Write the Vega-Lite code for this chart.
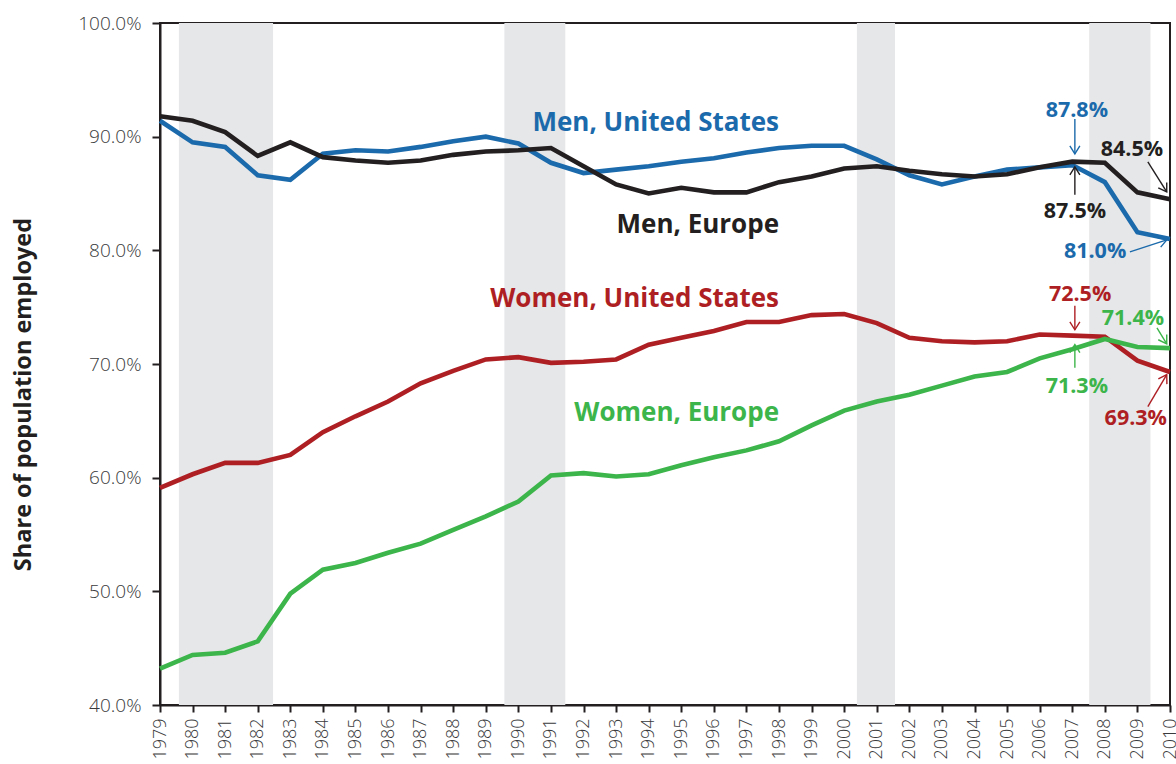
{
  "$schema": "https://vega.github.io/schema/vega-lite/v6.json",
  "width": 1010,
  "height": 682,
  "autosize": {"type": "none"},
  "padding": {"left": 160, "top": 23, "right": 6, "bottom": 59},
  "background": "white",
  "config": {
    "view": {"stroke": "#231f20", "strokeWidth": 2},
    "font": "Open Sans",
    "text": {"font": "Open Sans"},
    "axisY": {
      "labelFontSize": 19, "labelColor": "#3a3a3c", "labelFont": "Open Sans", "labelFontWeight": 300,
      "tickSize": 8, "tickWidth": 2, "tickColor": "#231f20",
      "domainColor": "#231f20", "domainWidth": 2, "labelPadding": 11,
      "grid": false, "labelFlush": false, "labelOverlap": false
    }
  },
  "datasets": {
    "emp": [
      {"year": 1979, "series": "Men, United States", "value": 91.4},
      {"year": 1980, "series": "Men, United States", "value": 89.5},
      {"year": 1981, "series": "Men, United States", "value": 89.1},
      {"year": 1982, "series": "Men, United States", "value": 86.6},
      {"year": 1983, "series": "Men, United States", "value": 86.2},
      {"year": 1984, "series": "Men, United States", "value": 88.5},
      {"year": 1985, "series": "Men, United States", "value": 88.8},
      {"year": 1986, "series": "Men, United States", "value": 88.7},
      {"year": 1987, "series": "Men, United States", "value": 89.1},
      {"year": 1988, "series": "Men, United States", "value": 89.6},
      {"year": 1989, "series": "Men, United States", "value": 90.0},
      {"year": 1990, "series": "Men, United States", "value": 89.4},
      {"year": 1991, "series": "Men, United States", "value": 87.7},
      {"year": 1992, "series": "Men, United States", "value": 86.8},
      {"year": 1993, "series": "Men, United States", "value": 87.1},
      {"year": 1994, "series": "Men, United States", "value": 87.4},
      {"year": 1995, "series": "Men, United States", "value": 87.8},
      {"year": 1996, "series": "Men, United States", "value": 88.1},
      {"year": 1997, "series": "Men, United States", "value": 88.6},
      {"year": 1998, "series": "Men, United States", "value": 89.0},
      {"year": 1999, "series": "Men, United States", "value": 89.2},
      {"year": 2000, "series": "Men, United States", "value": 89.2},
      {"year": 2001, "series": "Men, United States", "value": 88.0},
      {"year": 2002, "series": "Men, United States", "value": 86.6},
      {"year": 2003, "series": "Men, United States", "value": 85.8},
      {"year": 2004, "series": "Men, United States", "value": 86.5},
      {"year": 2005, "series": "Men, United States", "value": 87.1},
      {"year": 2006, "series": "Men, United States", "value": 87.3},
      {"year": 2007, "series": "Men, United States", "value": 87.5},
      {"year": 2008, "series": "Men, United States", "value": 86.0},
      {"year": 2009, "series": "Men, United States", "value": 81.6},
      {"year": 2010, "series": "Men, United States", "value": 81.0},
      {"year": 1979, "series": "Men, Europe", "value": 91.8},
      {"year": 1980, "series": "Men, Europe", "value": 91.4},
      {"year": 1981, "series": "Men, Europe", "value": 90.4},
      {"year": 1982, "series": "Men, Europe", "value": 88.3},
      {"year": 1983, "series": "Men, Europe", "value": 89.5},
      {"year": 1984, "series": "Men, Europe", "value": 88.2},
      {"year": 1985, "series": "Men, Europe", "value": 87.9},
      {"year": 1986, "series": "Men, Europe", "value": 87.7},
      {"year": 1987, "series": "Men, Europe", "value": 87.9},
      {"year": 1988, "series": "Men, Europe", "value": 88.4},
      {"year": 1989, "series": "Men, Europe", "value": 88.7},
      {"year": 1990, "series": "Men, Europe", "value": 88.8},
      {"year": 1991, "series": "Men, Europe", "value": 89.0},
      {"year": 1992, "series": "Men, Europe", "value": 87.4},
      {"year": 1993, "series": "Men, Europe", "value": 85.8},
      {"year": 1994, "series": "Men, Europe", "value": 85.0},
      {"year": 1995, "series": "Men, Europe", "value": 85.5},
      {"year": 1996, "series": "Men, Europe", "value": 85.1},
      {"year": 1997, "series": "Men, Europe", "value": 85.1},
      {"year": 1998, "series": "Men, Europe", "value": 86.0},
      {"year": 1999, "series": "Men, Europe", "value": 86.5},
      {"year": 2000, "series": "Men, Europe", "value": 87.2},
      {"year": 2001, "series": "Men, Europe", "value": 87.4},
      {"year": 2002, "series": "Men, Europe", "value": 87.0},
      {"year": 2003, "series": "Men, Europe", "value": 86.7},
      {"year": 2004, "series": "Men, Europe", "value": 86.5},
      {"year": 2005, "series": "Men, Europe", "value": 86.7},
      {"year": 2006, "series": "Men, Europe", "value": 87.3},
      {"year": 2007, "series": "Men, Europe", "value": 87.8},
      {"year": 2008, "series": "Men, Europe", "value": 87.7},
      {"year": 2009, "series": "Men, Europe", "value": 85.1},
      {"year": 2010, "series": "Men, Europe", "value": 84.5},
      {"year": 1979, "series": "Women, United States", "value": 59.1},
      {"year": 1980, "series": "Women, United States", "value": 60.3},
      {"year": 1981, "series": "Women, United States", "value": 61.3},
      {"year": 1982, "series": "Women, United States", "value": 61.3},
      {"year": 1983, "series": "Women, United States", "value": 62.0},
      {"year": 1984, "series": "Women, United States", "value": 64.0},
      {"year": 1985, "series": "Women, United States", "value": 65.4},
      {"year": 1986, "series": "Women, United States", "value": 66.7},
      {"year": 1987, "series": "Women, United States", "value": 68.3},
      {"year": 1988, "series": "Women, United States", "value": 69.4},
      {"year": 1989, "series": "Women, United States", "value": 70.4},
      {"year": 1990, "series": "Women, United States", "value": 70.6},
      {"year": 1991, "series": "Women, United States", "value": 70.1},
      {"year": 1992, "series": "Women, United States", "value": 70.2},
      {"year": 1993, "series": "Women, United States", "value": 70.4},
      {"year": 1994, "series": "Women, United States", "value": 71.7},
      {"year": 1995, "series": "Women, United States", "value": 72.3},
      {"year": 1996, "series": "Women, United States", "value": 72.9},
      {"year": 1997, "series": "Women, United States", "value": 73.7},
      {"year": 1998, "series": "Women, United States", "value": 73.7},
      {"year": 1999, "series": "Women, United States", "value": 74.3},
      {"year": 2000, "series": "Women, United States", "value": 74.4},
      {"year": 2001, "series": "Women, United States", "value": 73.6},
      {"year": 2002, "series": "Women, United States", "value": 72.3},
      {"year": 2003, "series": "Women, United States", "value": 72.0},
      {"year": 2004, "series": "Women, United States", "value": 71.9},
      {"year": 2005, "series": "Women, United States", "value": 72.0},
      {"year": 2006, "series": "Women, United States", "value": 72.6},
      {"year": 2007, "series": "Women, United States", "value": 72.5},
      {"year": 2008, "series": "Women, United States", "value": 72.4},
      {"year": 2009, "series": "Women, United States", "value": 70.3},
      {"year": 2010, "series": "Women, United States", "value": 69.3},
      {"year": 1979, "series": "Women, Europe", "value": 43.2},
      {"year": 1980, "series": "Women, Europe", "value": 44.4},
      {"year": 1981, "series": "Women, Europe", "value": 44.6},
      {"year": 1982, "series": "Women, Europe", "value": 45.6},
      {"year": 1983, "series": "Women, Europe", "value": 49.8},
      {"year": 1984, "series": "Women, Europe", "value": 51.9},
      {"year": 1985, "series": "Women, Europe", "value": 52.5},
      {"year": 1986, "series": "Women, Europe", "value": 53.4},
      {"year": 1987, "series": "Women, Europe", "value": 54.2},
      {"year": 1988, "series": "Women, Europe", "value": 55.4},
      {"year": 1989, "series": "Women, Europe", "value": 56.6},
      {"year": 1990, "series": "Women, Europe", "value": 57.9},
      {"year": 1991, "series": "Women, Europe", "value": 60.2},
      {"year": 1992, "series": "Women, Europe", "value": 60.4},
      {"year": 1993, "series": "Women, Europe", "value": 60.1},
      {"year": 1994, "series": "Women, Europe", "value": 60.3},
      {"year": 1995, "series": "Women, Europe", "value": 61.1},
      {"year": 1996, "series": "Women, Europe", "value": 61.8},
      {"year": 1997, "series": "Women, Europe", "value": 62.4},
      {"year": 1998, "series": "Women, Europe", "value": 63.2},
      {"year": 1999, "series": "Women, Europe", "value": 64.6},
      {"year": 2000, "series": "Women, Europe", "value": 65.9},
      {"year": 2001, "series": "Women, Europe", "value": 66.7},
      {"year": 2002, "series": "Women, Europe", "value": 67.3},
      {"year": 2003, "series": "Women, Europe", "value": 68.1},
      {"year": 2004, "series": "Women, Europe", "value": 68.9},
      {"year": 2005, "series": "Women, Europe", "value": 69.3},
      {"year": 2006, "series": "Women, Europe", "value": 70.5},
      {"year": 2007, "series": "Women, Europe", "value": 71.3},
      {"year": 2008, "series": "Women, Europe", "value": 72.2},
      {"year": 2009, "series": "Women, Europe", "value": 71.5},
      {"year": 2010, "series": "Women, Europe", "value": 71.4}
    ],
    "rec": [
      {"start": 1979.58, "end": 1982.47},
      {"start": 1989.57, "end": 1991.44},
      {"start": 2000.39, "end": 2001.56},
      {"start": 2007.52, "end": 2009.4}
    ],
    "labels": [
      {"series": "Men, United States", "year": 1998, "value": 91.2, "text": "Men, United States"},
      {"series": "Men, Europe", "year": 1998, "value": 82.2, "text": "Men, Europe"},
      {"series": "Women, United States", "year": 1998, "value": 75.7, "text": "Women, United States"},
      {"series": "Women, Europe", "year": 1998, "value": 65.7, "text": "Women, Europe"}
    ],
    "notes": [
      {"series": "Men, United States", "year": 2007.14, "value": 92.26, "text": "87.8%"},
      {"series": "Men, Europe", "year": 2007.08, "value": 83.38, "text": "87.5%"},
      {"series": "Men, Europe", "year": 2008.83, "value": 88.83, "text": "84.5%"},
      {"series": "Men, United States", "year": 2007.7, "value": 79.87, "text": "81.0%"},
      {"series": "Women, United States", "year": 2007.24, "value": 76.09, "text": "72.5%"},
      {"series": "Women, Europe", "year": 2008.86, "value": 73.98, "text": "71.4%"},
      {"series": "Women, Europe", "year": 2007.14, "value": 68.0, "text": "71.3%"},
      {"series": "Women, United States", "year": 2008.95, "value": 65.19, "text": "69.3%"}
    ],
    "arrows": [
      {"series": "Men, United States", "head": "down", "x1": 2007.08, "y1": 91.55, "x2": 2007.08, "y2": 88.48},
      {"series": "Men, Europe", "head": "up", "x1": 2007.08, "y1": 84.88, "x2": 2007.08, "y2": 87.34},
      {"series": "Men, Europe", "head": "se", "x1": 2009.32, "y1": 87.78, "x2": 2009.9, "y2": 85.14},
      {"series": "Men, United States", "head": "east", "x1": 2008.77, "y1": 79.87, "x2": 2009.9, "y2": 80.92},
      {"series": "Women, United States", "head": "down", "x1": 2007.08, "y1": 75.12, "x2": 2007.08, "y2": 73.01},
      {"series": "Women, Europe", "head": "se", "x1": 2009.6, "y1": 73.18, "x2": 2009.9, "y2": 71.77},
      {"series": "Women, Europe", "head": "up", "x1": 2007.08, "y1": 69.68, "x2": 2007.08, "y2": 71.7},
      {"series": "Women, United States", "head": "ne", "x1": 2009.32, "y1": 66.25, "x2": 2009.9, "y2": 69.06}
    ]
  },
  "layer": [
    {
      "data": {"name": "rec"},
      "mark": {"type": "rect", "color": "#e6e7e8"},
      "encoding": {
        "x": {
          "field": "start", "type": "quantitative",
          "scale": {"domain": [1979, 2010], "nice": false, "zero": false},
          "axis": {
            "values": [1979,1980,1981,1982,1983,1984,1985,1986,1987,1988,1989,1990,1991,1992,1993,1994,1995,1996,1997,1998,1999,2000,2001,2002,2003,2004,2005,2006,2007,2008,2009,2010],
            "tickCount": 32,
            "format": "d", "labelAngle": -90, "labelFontSize": 18, "labelColor": "#3a3a3c",
            "labelFont": "Open Sans", "labelFontWeight": 300,
            "tickSize": 7, "tickWidth": 2, "tickColor": "#231f20",
            "domainColor": "#231f20", "domainWidth": 2, "labelPadding": 6,
            "grid": false, "title": null, "labelFlush": false, "labelOverlap": false, "labelBound": false,
            "labelSeparation": 0
          }
        },
        "x2": {"field": "end"}
      }
    },
    {
      "data": {"name": "emp"},
      "mark": {"type": "line", "strokeWidth": 4.6},
      "encoding": {
        "x": {"field": "year", "type": "quantitative"},
        "y": {
          "field": "value", "type": "quantitative",
          "scale": {"domain": [40, 100], "nice": false, "zero": false},
          "axis": {
            "values": [40, 50, 60, 70, 80, 90, 100],
            "labelExpr": "format(datum.value, '.1f') + '%'",
            "title": "Share of population employed",
            "titleFontSize": 23.5, "titleFontWeight": "bold", "titleColor": "#231f20", "titleFont": "Open Sans",
            "titleX": -137, "titleY": 371, "titleAngle": -90, "titleAlign": "center", "titleBaseline": "middle"
          }
        },
        "color": {
          "field": "series", "type": "nominal",
          "scale": {
            "domain": ["Men, United States", "Men, Europe", "Women, United States", "Women, Europe"],
            "range": ["#1b6aab", "#231f20", "#ae1f24", "#3cb54a"]
          },
          "legend": null
        }
      }
    },
    {
      "data": {"name": "labels"},
      "mark": {"type": "text", "align": "right", "baseline": "middle", "fontSize": 26, "fontWeight": "bold", "font": "Open Sans"},
      "encoding": {
        "x": {"field": "year", "type": "quantitative"},
        "y": {"field": "value", "type": "quantitative"},
        "text": {"field": "text"},
        "color": {"field": "series", "type": "nominal", "legend": null}
      }
    },
    {
      "data": {"name": "notes"},
      "mark": {"type": "text", "align": "center", "baseline": "middle", "fontSize": 21.5, "fontWeight": "bold", "font": "Open Sans"},
      "encoding": {
        "x": {"field": "year", "type": "quantitative"},
        "y": {"field": "value", "type": "quantitative"},
        "text": {"field": "text"},
        "color": {"field": "series", "type": "nominal", "legend": null}
      }
    },
    {
      "data": {"name": "arrows"},
      "mark": {"type": "rule", "strokeWidth": 1.4},
      "encoding": {
        "x": {"field": "x1", "type": "quantitative"},
        "y": {"field": "y1", "type": "quantitative"},
        "x2": {"field": "x2"},
        "y2": {"field": "y2"},
        "color": {"field": "series", "type": "nominal", "legend": null}
      }
    },
    {
      "data": {"name": "arrows"},
      "transform": [{"filter": "datum.head === 'down'"}],
      "mark": {"type": "point", "shape": "M-1,1.6L0,0L1,1.6", "filled": false, "size": 100, "strokeWidth": 1.4, "angle": 180, "opacity": 1},
      "encoding": {
        "x": {"field": "x2", "type": "quantitative"},
        "y": {"field": "y2", "type": "quantitative"},
        "color": {"field": "series", "type": "nominal", "legend": null}
      }
    },
    {
      "data": {"name": "arrows"},
      "transform": [{"filter": "datum.head === 'up'"}],
      "mark": {"type": "point", "shape": "M-1,1.6L0,0L1,1.6", "filled": false, "size": 100, "strokeWidth": 1.4, "angle": 0, "opacity": 1},
      "encoding": {
        "x": {"field": "x2", "type": "quantitative"},
        "y": {"field": "y2", "type": "quantitative"},
        "color": {"field": "series", "type": "nominal", "legend": null}
      }
    },
    {
      "data": {"name": "arrows"},
      "transform": [{"filter": "datum.head === 'se'"}],
      "mark": {"type": "point", "shape": "M-1,1.6L0,0L1,1.6", "filled": false, "size": 100, "strokeWidth": 1.4, "angle": 148, "opacity": 1},
      "encoding": {
        "x": {"field": "x2", "type": "quantitative"},
        "y": {"field": "y2", "type": "quantitative"},
        "color": {"field": "series", "type": "nominal", "legend": null}
      }
    },
    {
      "data": {"name": "arrows"},
      "transform": [{"filter": "datum.head === 'east'"}],
      "mark": {"type": "point", "shape": "M-1,1.6L0,0L1,1.6", "filled": false, "size": 100, "strokeWidth": 1.4, "angle": 72, "opacity": 1},
      "encoding": {
        "x": {"field": "x2", "type": "quantitative"},
        "y": {"field": "y2", "type": "quantitative"},
        "color": {"field": "series", "type": "nominal", "legend": null}
      }
    },
    {
      "data": {"name": "arrows"},
      "transform": [{"filter": "datum.head === 'ne'"}],
      "mark": {"type": "point", "shape": "M-1,1.6L0,0L1,1.6", "filled": false, "size": 100, "strokeWidth": 1.4, "angle": 31, "opacity": 1},
      "encoding": {
        "x": {"field": "x2", "type": "quantitative"},
        "y": {"field": "y2", "type": "quantitative"},
        "color": {"field": "series", "type": "nominal", "legend": null}
      }
    }
  ]
}
